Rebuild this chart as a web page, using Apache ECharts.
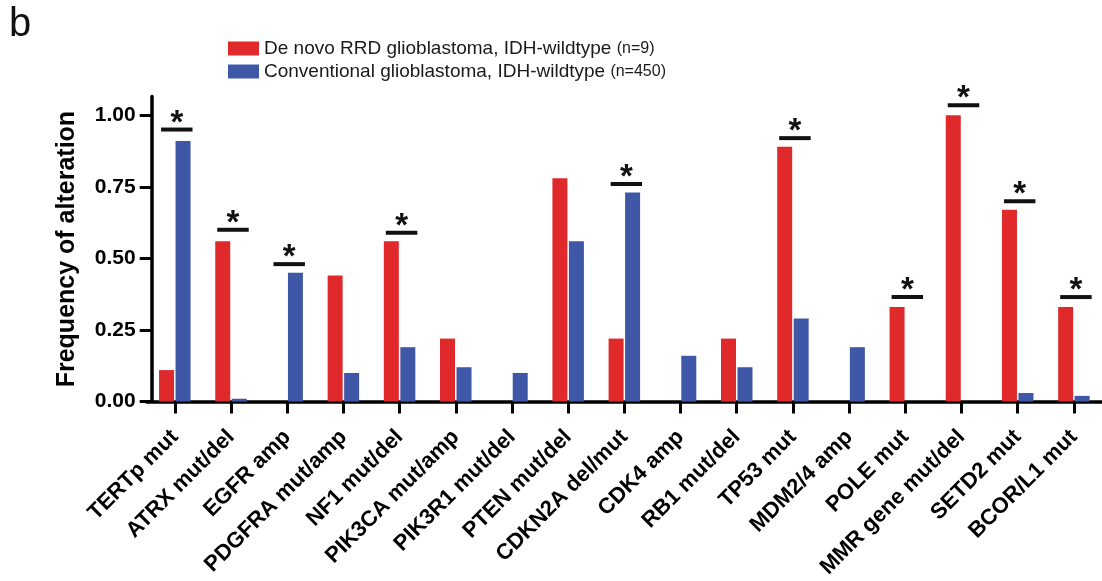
<!DOCTYPE html>
<html>
<head>
<meta charset="utf-8">
<script src="https://cdn.jsdelivr.net/npm/echarts@6/dist/echarts.min.js"></script>
<style>
html,body{margin:0;padding:0;background:#fff;}
#chart{width:1102px;height:581px;}
</style>
</head>
<body>
<div id="chart"></div>
<script>
const categories = ['TERTp mut','ATRX mut/del','EGFR amp','PDGFRA mut/amp','NF1 mut/del','PIK3CA mut/amp','PIK3R1 mut/del','PTEN mut/del','CDKN2A del/mut','CDK4 amp','RB1 mut/del','TP53 mut','MDM2/4 amp','POLE mut','MMR gene mut/del','SETD2 mut','BCOR/L1 mut'];
const rrdValues = [0.11,0.56,0,0.44,0.56,0.22,0,0.78,0.22,0,0.22,0.89,0,0.33,1.00,0.67,0.33];
const convValues = [0.91,0.01,0.45,0.10,0.19,0.12,0.10,0.56,0.73,0.16,0.12,0.29,0.19,0,0,0.03,0.02];
const sigLineLevels = [0.95,0.60,0.48,null,0.59,null,null,null,0.76,null,null,0.92,null,0.365,1.035,0.70,0.365];
const yTicks = [0,0.25,0.5,0.75,1.0];
const seriesNames = ['De novo RRD glioblastoma, IDH-wildtype', 'Conventional glioblastoma, IDH-wildtype'];
const seriesN = ['(n=9)', '(n=450)'];

const FONT = "Arial, 'Liberation Sans', Helvetica, sans-serif";
const RED = '#E0292B';
const BLUE = '#3F57A7';

const chart = echarts.init(document.getElementById('chart'), null, {renderer:'canvas'});

const sigData = sigLineLevels.map((v,i)=> v==null ? null : [i, v]).filter(d=>d);

const option = {
  animation: false,
  backgroundColor: '#fff',
  textStyle: {fontFamily: FONT},
  graphic: [{
    type: 'text', left: 9, top: 5,
    style: {text: 'b', font: "40px " + FONT, fill: '#111'}
  }],
  legend: {
    orient: 'vertical',
    left: 228, top: 39, padding: 0,
    itemWidth: 31, itemHeight: 14, itemGap: 4,
    icon: 'rect',
    data: seriesNames,
    formatter: function(name){
      const i = seriesNames.indexOf(name);
      return name + ' {n|' + seriesN[i] + '}';
    },
    textStyle: {
      fontFamily: FONT, fontSize: 19, color: '#1a1a1a', padding: [0,0,0,0],
      rich: {n: {fontFamily: FONT, fontSize: 16, color: '#1a1a1a'}}
    }
  },
  grid: {left: 146.7, top: 96.6, width: 963.3, height: 305, containLabel: false},
  xAxis: {
    type: 'category',
    data: categories,
    boundaryGap: true,
    axisLine: {show: true, lineStyle: {color: '#000', width: 3.5}},
    axisTick: {show: true, alignWithLabel: true, length: 12, lineStyle: {color: '#000', width: 3}},
    axisLabel: {rotate: 45, interval: 0, margin: 32, color: '#000', fontFamily: FONT, fontWeight: 'bold', fontSize: 22},
    splitLine: {show: false}
  },
  yAxis: {
    type: 'value',
    min: 0, max: 1.065,
    offset: -5,
    name: 'Frequency of alteration',
    nameLocation: 'middle',
    nameGap: 72,
    nameTextStyle: {fontFamily: FONT, fontWeight: 'bold', fontSize: 25, color: '#000'},
    axisLine: {show: true, lineStyle: {color: '#000', width: 3.5}},
    axisTick: {show: true, length: 12, customValues: yTicks, lineStyle: {color: '#000', width: 3}},
    axisLabel: {customValues: yTicks, margin: 16, color: '#000', fontFamily: FONT, fontWeight: 'bold', fontSize: 21,
      formatter: v => v.toFixed(2)},
    splitLine: {show: false}
  },
  series: [
    {name: seriesNames[0], type: 'bar', data: rrdValues, barWidth: 15, barGap: '10%', itemStyle: {color: RED}},
    {name: seriesNames[1], type: 'bar', data: convValues, barWidth: 15, barGap: '10%', itemStyle: {color: BLUE}},
    {
      type: 'custom', name: 'sig', data: sigData, z: 5,
      renderItem: function(params, api){
        const p = api.coord([api.value(0), api.value(1)]);
        const w = api.size([1, 0])[0] * 0.56;
        return {
          type: 'group',
          children: [
            {type: 'line', shape: {x1: p[0]-w/2+2, y1: p[1], x2: p[0]+w/2+2, y2: p[1]}, style: {stroke: '#111', lineWidth: 4}},
            {type: 'text', x: p[0]+2, y: p[1]-6, style: {text: '*', font: 'bold 33px ' + FONT, fill: '#111', align: 'center', verticalAlign: 'middle'}}
          ]
        };
      }
    }
  ]
};
chart.setOption(option);
</script>
</body>
</html>
